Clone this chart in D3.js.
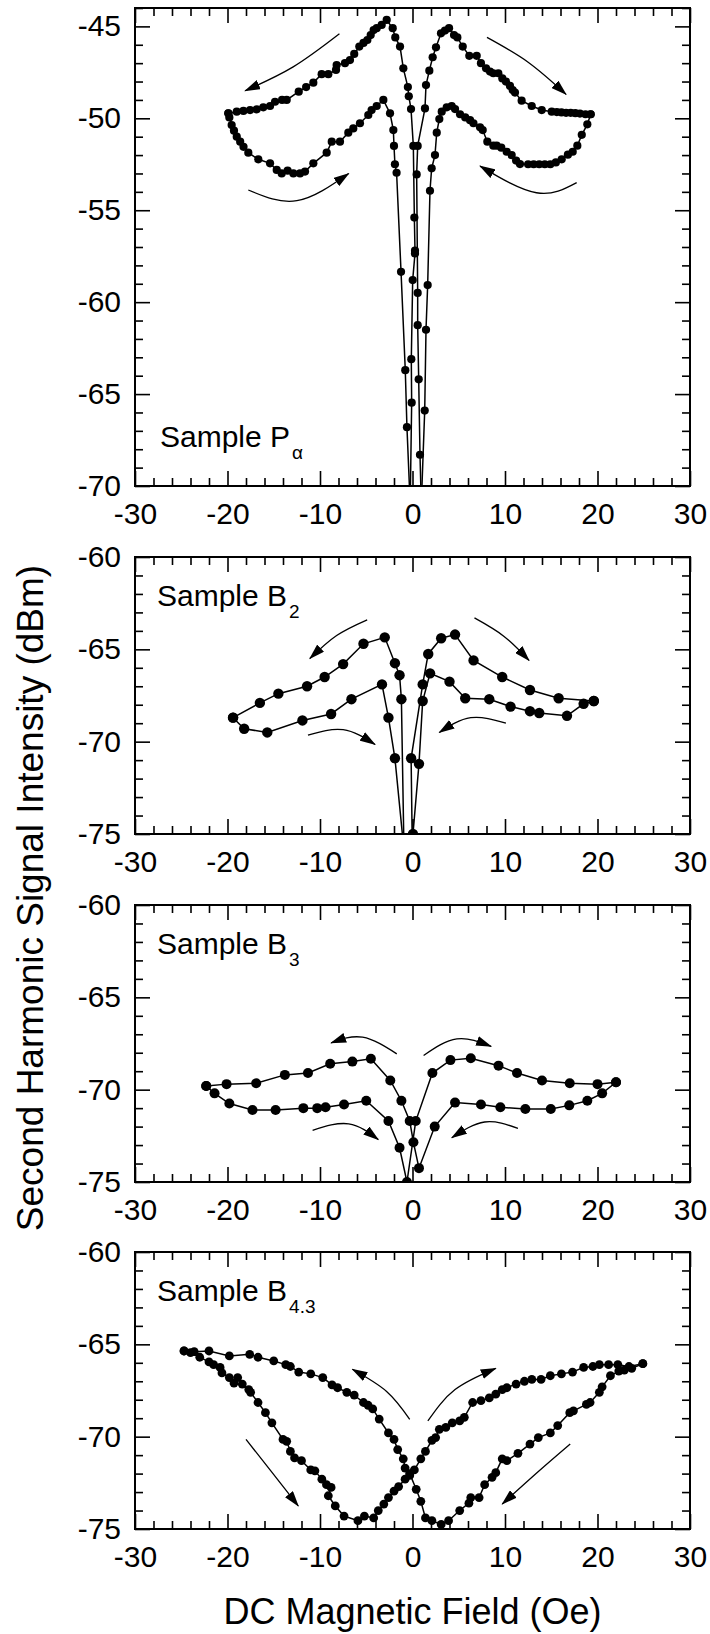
<!DOCTYPE html>
<html>
<head>
<meta charset="utf-8">
<script src="https://cdn.jsdelivr.net/npm/d3@7"></script>
<style>
  html, body { margin: 0; padding: 0; background: #fff; }
  svg { display: block; font-family: "Liberation Sans", Arial, Helvetica, sans-serif; }
</style>
</head>
<body>
<svg id="chart" width="710" height="1634"></svg>
<script>
// Second harmonic signal vs DC field, four samples.
// Each sample: field sweep down (+H -> -H) and sweep up (-H -> +H), as [H (Oe), dBm].
// Points below the axis minimum are where the curves run off the frame (they are clipped).

const p1Down = [
  [19.26,-49.78],[18.9,-50.33],[18.3,-50.9],[17.82,-51.49],[17.32,-51.82],[16.8,-51.98],[16.13,-52.23],
  [15.5,-52.4],[14.9,-52.5],[14.3,-52.5],[13.7,-52.5],[13.1,-52.5],[12.5,-52.5],[11.62,-52.49],[11.2,-52.3],
  [10.72,-52.0],[10.18,-51.82],[9.6,-51.6],[9.1,-51.49],[8.74,-51.49],[8.09,-51.27],[7.59,-50.64],[7.3,-50.49],
  [6.59,-50.27],[6.22,-50.1],[5.7,-49.95],[5.14,-49.78],[4.6,-49.5],[4.24,-49.33],[3.7,-49.4],[3.16,-49.64],
  [2.9,-50.04],[2.62,-50.78],[2.43,-52.0],[2.07,-52.72],[1.89,-53.94],[1.64,-59.07],[1.46,-61.5],[1.32,-65.9],
  [0.95,-71],[-0.25,-71],[-0.09,-65.47],[-0.13,-63.1],[0.02,-58.8],[0.27,-57.35],[0.27,-57.2],[0.2,-55.4],
  [0.09,-51.5],[-0.16,-49.5],[-0.4,-48.8],[-0.5,-48.3],[-0.99,-47.28],[-1.35,-46.1],[-1.86,-45.6],[-2.14,-45.1],
  [-2.79,-44.65],[-3.33,-44.92],[-3.87,-45.1],[-4.2,-45.2],[-4.52,-45.47],[-4.88,-45.74],[-5.3,-45.9],
  [-5.75,-46.1],[-6.3,-46.5],[-6.76,-46.83],[-7.3,-47.0],[-8.2,-47.1],[-8.27,-47.37],[-9.1,-47.6],[-9.82,-47.6],
  [-10.72,-48.06],[-11.5,-48.3],[-12.3,-48.55],[-13.6,-49.0],[-14.1,-49.0],[-14.86,-49.1],[-15.4,-49.33],
  [-16.13,-49.4],[-16.84,-49.51],[-17.56,-49.55],[-18.28,-49.6],[-19.0,-49.64],[-19.91,-49.73]
];
const p1Up = [
  [-19.91,-49.73],[-19.8,-49.95],[-19.55,-50.37],[-19.3,-50.67],[-19.0,-51.0],[-18.63,-51.27],[-18.27,-51.55],
  [-17.75,-51.87],[-16.67,-52.23],[-15.4,-52.45],[-14.68,-52.81],[-14.14,-53.0],[-13.5,-52.85],[-12.88,-53.0],
  [-12.16,-53.0],[-11.62,-52.9],[-10.72,-52.45],[-9.28,-51.87],[-8.73,-51.27],[-7.84,-51.27],[-6.94,-50.78],
  [-6.4,-50.55],[-5.68,-50.27],[-4.78,-49.82],[-4.42,-49.55],[-3.87,-49.33],[-3.15,-49.0],[-2.43,-49.73],
  [-2.07,-50.64],[-2.0,-51.5],[-1.9,-52.5],[-1.72,-52.96],[-1.24,-58.35],[-0.78,-63.7],[-0.6,-66.8],
  [-0.25,-71],[0.95,-71],[0.81,-68.3],[0.67,-64.2],[0.56,-61.25],[0.56,-59.5],[0.45,-53.05],[0.56,-51.5],
  [1.35,-49.46],[1.46,-48.19],[1.82,-47.41],[2.18,-46.68],[2.54,-46.14],[3.08,-45.38],[3.51,-45.23],[3.95,-45.1],
  [4.49,-45.47],[4.85,-45.6],[5.43,-46.1],[6.14,-46.6],[6.94,-46.6],[7.4,-47.0],[7.95,-47.28],[8.38,-47.46],
  [8.74,-47.55],[9.28,-47.55],[9.71,-47.83],[10.1,-48.0],[10.54,-48.24],[10.83,-48.46],[11.08,-48.6],
  [11.8,-49.04],[12.89,-49.33],[13.97,-49.55],[15.05,-49.64],[15.6,-49.66],[16.1,-49.68],[16.6,-49.7],
  [17.1,-49.7],[17.6,-49.72],[18.1,-49.74],[18.7,-49.78],[19.26,-49.78]
];

const p2Down = [
  [19.6,-67.8],[18.5,-67.95],[16.7,-68.6],[13.7,-68.45],[12.7,-68.35],[10.6,-68.1],[8.3,-67.7],[5.7,-67.65],
  [4.0,-66.75],[1.9,-66.3],[1.1,-67.8],[0.7,-71.2],[0.05,-75],[-0.9,-76.5],[-1.2,-67.7],[-1.4,-66.4],
  [-1.9,-65.75],[-3.0,-64.35],[-5.3,-64.7],[-7.5,-65.8],[-9.5,-66.5],[-11.4,-67.0],[-14.5,-67.4],
  [-16.5,-67.9],[-19.4,-68.7]
];
const p2Up = [
  [-19.4,-68.7],[-18.2,-69.3],[-15.7,-69.5],[-11.9,-68.85],[-8.8,-68.5],[-6.6,-67.7],[-3.3,-66.9],
  [-2.6,-68.7],[-1.9,-70.9],[-0.8,-76.5],[0.0,-76.5],[-0.15,-70.9],[1.1,-66.9],[1.7,-65.25],[3.1,-64.4],
  [4.6,-64.2],[6.6,-65.6],[9.7,-66.5],[12.7,-67.2],[15.8,-67.65],[19.6,-67.8]
];

const p3Down = [
  [22.0,-69.6],[20.5,-70.2],[18.9,-70.6],[16.95,-70.85],[14.95,-71.05],[12.2,-71.05],[9.5,-70.95],[7.4,-70.8],
  [4.6,-70.7],[2.4,-72.0],[0.7,-74.25],[0.1,-72.85],[-0.3,-71.7],[-1.2,-70.6],[-2.4,-69.5],[-4.5,-68.33],
  [-6.5,-68.48],[-8.9,-68.6],[-11.3,-69.1],[-13.8,-69.2],[-16.9,-69.65],[-20.1,-69.7],[-22.3,-69.8]
];
const p3Up = [
  [-22.3,-69.8],[-21.4,-70.2],[-19.8,-70.75],[-17.3,-71.1],[-14.8,-71.1],[-11.8,-71.0],[-10.3,-71.0],
  [-9.4,-70.95],[-7.4,-70.8],[-5.0,-70.6],[-2.6,-71.7],[-1.4,-73.15],[-0.6,-75.0],[0.35,-71.7],[2.15,-69.1],
  [4.1,-68.4],[6.3,-68.3],[9.3,-68.7],[11.3,-69.1],[14.0,-69.5],[17.0,-69.65],[20.0,-69.7],[22.0,-69.6]
];

const p4Down = [
  [24.9,-66.05],[23.7,-66.3],[22.9,-66.4],[22.3,-66.45],[21.4,-66.7],[20.5,-67.3],[20.2,-67.6],[19.2,-68.15],
  [18.8,-68.25],[17.4,-68.6],[17.0,-68.7],[15.7,-69.4],[14.9,-69.8],[13.6,-70.05],[12.7,-70.4],[11.4,-70.9],
  [10.2,-71.3],[9.7,-71.2],[9.0,-71.95],[8.6,-72.2],[7.8,-72.6],[7.2,-73.3],[6.3,-73.3],[6.1,-73.6],[5.1,-74.0],
  [3.9,-74.55],[3.1,-74.75],[2.1,-74.55],[1.4,-74.4],[0.9,-73.5],[0.4,-72.85],[-0.3,-72.0],[-0.8,-71.7],
  [-1.0,-71.2],[-1.6,-70.7],[-2.0,-70.15],[-2.6,-69.8],[-3.6,-69.05],[-4.3,-68.5],[-4.8,-68.3],[-5.3,-68.15],
  [-6.3,-67.75],[-7.1,-67.6],[-8.1,-67.35],[-8.7,-67.2],[-9.7,-66.8],[-11.0,-66.6],[-12.3,-66.5],[-13.2,-66.2],
  [-13.7,-66.1],[-15.0,-65.9],[-16.7,-65.7],[-17.6,-65.54],[-19.8,-65.63],[-22.0,-65.36],[-23.6,-65.4],
  [-24.7,-65.36]
];
const p4Up = [
  [-24.7,-65.36],[-24.0,-65.45],[-23.0,-65.7],[-22.0,-65.95],[-21.5,-66.1],[-20.8,-66.25],[-20.6,-66.55],
  [-19.8,-66.8],[-19.3,-67.1],[-18.9,-66.8],[-18.4,-67.15],[-17.7,-67.45],[-17.5,-67.6],[-16.7,-68.15],
  [-15.9,-68.7],[-15.2,-69.25],[-14.0,-70.15],[-13.6,-70.25],[-13.2,-70.8],[-12.75,-71.15],[-12.0,-71.3],
  [-11.0,-71.8],[-10.55,-71.85],[-9.8,-72.3],[-9.3,-72.6],[-8.8,-72.75],[-9.1,-73.2],[-8.35,-73.75],
  [-7.4,-74.3],[-5.9,-74.55],[-5.2,-74.3],[-4.2,-74.4],[-3.7,-74.0],[-3.1,-73.65],[-2.6,-73.3],[-2.0,-72.95],
  [-1.5,-72.7],[-0.8,-72.3],[-0.3,-72.1],[0.2,-71.8],[0.9,-71.2],[1.4,-70.8],[2.1,-70.2],[2.5,-70.05],
  [2.9,-69.6],[3.6,-69.5],[4.3,-69.25],[5.1,-69.15],[5.6,-68.95],[6.5,-68.15],[7.4,-68.05],[8.3,-67.9],
  [9.0,-67.7],[9.7,-67.45],[10.2,-67.35],[11.2,-67.15],[12.1,-67.0],[12.9,-66.9],[13.9,-66.9],[14.9,-66.7],
  [16.1,-66.6],[17.3,-66.5],[18.5,-66.25],[19.5,-66.2],[20.2,-66.1],[21.2,-66.1],[22.2,-66.1],[23.4,-66.2],
  [24.9,-66.05]
];

// sweep-direction arrows: [start, through, tip] in data units
const p1Arrows = [
  [[-7.9,-45.4],[-12.9,-47.2],[-18.1,-48.5]],
  [[8.05,-45.6],[12.5,-46.95],[16.6,-48.7]],
  [[-17.75,-53.9],[-12.5,-54.48],[-6.9,-53.0]],
  [[17.75,-53.5],[13.4,-54.05],[7.3,-52.6]]
];
const p2Arrows = [
  [[-4.9,-63.4],[-8.2,-64.25],[-11.1,-65.5]],
  [[6.7,-63.3],[9.9,-64.3],[12.6,-65.6]],
  [[-11.3,-69.65],[-7.5,-69.35],[-4.05,-70.15]],
  [[10.1,-69.0],[6.3,-68.7],[2.9,-69.5]]
];
const p3Arrows = [
  [[-1.7,-68.06],[-5.4,-67.16],[-8.8,-67.47]],
  [[1.2,-68.15],[4.8,-67.25],[8.5,-67.65]],
  [[-10.8,-72.2],[-6.9,-71.85],[-3.7,-72.7]],
  [[11.4,-72.1],[7.8,-71.75],[4.25,-72.6]]
];
const p4Arrows = [
  [[-0.3,-69.06],[-2.8,-67.55],[-6.5,-66.35]],
  [[1.66,-69.15],[4.6,-67.45],[9.0,-66.3]],
  [[-18.0,-70.15],[-15.4,-71.8],[-12.35,-73.75]],
  [[17.05,-70.4],[13.7,-71.85],[9.7,-73.65]]
];

const xDomain = [-30, 30];
const xMajor = [-30, -20, -10, 0, 10, 20, 30];
const yTicksPa = [-70, -65, -60, -55, -50, -45];
const yTicksB = [-75, -70, -65, -60];
const sampleNames = ["P", "B", "B", "B"];
const sampleSubs = ["\u03b1", "2", "3", "4.3"];

const panels = [
  { top: 8,    height: 478, yDomain: [-70, -44], yTicks: yTicksPa, down: p1Down, up: p1Up, arrows: p1Arrows, r: 4.1, labelAtBottom: true },
  { top: 557,  height: 277, yDomain: [-75, -60], yTicks: yTicksB,  down: p2Down, up: p2Up, arrows: p2Arrows, r: 5.2 },
  { top: 905,  height: 277, yDomain: [-75, -60], yTicks: yTicksB,  down: p3Down, up: p3Up, arrows: p3Arrows, r: 5.0 },
  { top: 1252, height: 277, yDomain: [-75, -60], yTicks: yTicksB,  down: p4Down, up: p4Up, arrows: p4Arrows, r: 4.4 }
];

const left = 135, right = 690;
const tickFont = "30px";
const svg = d3.select("#chart");
const defs = svg.append("defs");

defs.append("marker")
  .attr("id", "head")
  .attr("viewBox", "0 -5 16 10")
  .attr("refX", 15)
  .attr("refY", 0)
  .attr("markerWidth", 16)
  .attr("markerHeight", 10)
  .attr("markerUnits", "userSpaceOnUse")
  .attr("orient", "auto")
  .append("path")
  .attr("d", "M0,-5L16,0L0,5Z")
  .attr("fill", "#000");

function range(a, b, step) {
  return d3.range(a, b + step / 2, step);
}

// plain hyphen for negatives, like the original figure
const fmt = d => String(d);

panels.forEach((p, i) => {
  const bottom = p.top + p.height;
  const x = d3.scaleLinear().domain(xDomain).range([left, right]);
  const y = d3.scaleLinear().domain(p.yDomain).range([bottom, p.top]);
  const g = svg.append("g").attr("class", "panel-" + i);

  defs.append("clipPath").attr("id", "clip" + i)
    .append("rect")
    .attr("x", left).attr("y", p.top)
    .attr("width", right - left).attr("height", p.height);

  const xMinor = range(-30, 30, 2).filter(v => v % 10 !== 0);
  const yMinor = range(p.yDomain[0], p.yDomain[1], 1).filter(v => v % 5 !== 0);

  // ticks, all pointing inward
  const axes = [
    { ax: d3.axisBottom(x).tickValues(xMajor).tickSize(-15).tickPadding(17).tickFormat(fmt), t: `translate(0,${bottom})` },
    { ax: d3.axisBottom(x).tickValues(xMinor).tickSize(-8).tickFormat(""), t: `translate(0,${bottom})` },
    { ax: d3.axisTop(x).tickValues(xMajor).tickSize(-15).tickFormat(""), t: `translate(0,${p.top})` },
    { ax: d3.axisTop(x).tickValues(xMinor).tickSize(-8).tickFormat(""), t: `translate(0,${p.top})` },
    { ax: d3.axisLeft(y).tickValues(p.yTicks).tickSize(-15).tickPadding(14).tickFormat(fmt), t: `translate(${left},0)` },
    { ax: d3.axisLeft(y).tickValues(yMinor).tickSize(-8).tickFormat(""), t: `translate(${left},0)` },
    { ax: d3.axisRight(y).tickValues(p.yTicks).tickSize(-15).tickFormat(""), t: `translate(${right},0)` },
    { ax: d3.axisRight(y).tickValues(yMinor).tickSize(-8).tickFormat(""), t: `translate(${right},0)` }
  ];
  axes.forEach(a => {
    const ag = g.append("g").attr("transform", a.t).call(a.ax);
    ag.select(".domain").remove();
    ag.selectAll("line").attr("stroke", "#000").attr("stroke-width", 1.6);
    ag.selectAll("text")
      .attr("fill", "#000")
      .style("font-size", tickFont)
      .style("font-family", "'Liberation Sans', Arial, sans-serif");
  });

  // frame
  g.append("rect")
    .attr("x", left).attr("y", p.top)
    .attr("width", right - left).attr("height", p.height)
    .attr("fill", "none").attr("stroke", "#000").attr("stroke-width", 2);

  // data
  const line = d3.line().x(d => x(d[0])).y(d => y(d[1]));
  const dataG = g.append("g").attr("clip-path", `url(#clip${i})`);
  [p.down, p.up].forEach(series => {
    dataG.append("path")
      .attr("d", line(series))
      .attr("fill", "none")
      .attr("stroke", "#000")
      .attr("stroke-width", 1.5);
  });
  dataG.selectAll("circle")
    .data(p.down.concat(p.up))
    .join("circle")
    .attr("cx", d => x(d[0]))
    .attr("cy", d => y(d[1]))
    .attr("r", p.r)
    .attr("fill", "#000");

  // arrows
  const arrowLine = d3.line().x(d => x(d[0])).y(d => y(d[1])).curve(d3.curveNatural);
  g.selectAll("path.arrow")
    .data(p.arrows)
    .join("path")
    .attr("class", "arrow")
    .attr("d", arrowLine)
    .attr("fill", "none")
    .attr("stroke", "#000")
    .attr("stroke-width", 1.3)
    .attr("marker-end", "url(#head)");

  // sample label
  const ly = p.labelAtBottom ? bottom - 39 : p.top + 49;
  const lx = p.labelAtBottom ? 160 : 157;
  const label = g.append("text")
    .attr("x", lx).attr("y", ly)
    .style("font-size", "30px")
    .attr("fill", "#000");
  label.append("tspan").text("Sample " + sampleNames[i]);
  label.append("tspan")
    .attr("dx", 2).attr("dy", 12)
    .style("font-size", "19px")
    .text(sampleSubs[i]);
});

// axis titles
svg.append("text")
  .attr("transform", "translate(43,898) rotate(-90)")
  .attr("text-anchor", "middle")
  .style("font-size", "37px")
  .text("Second Harmonic Signal Intensity (dBm)");

svg.append("text")
  .attr("x", 412.5).attr("y", 1624)
  .attr("text-anchor", "middle")
  .style("font-size", "36px")
  .text("DC Magnetic Field (Oe)");
</script>
</body>
</html>
